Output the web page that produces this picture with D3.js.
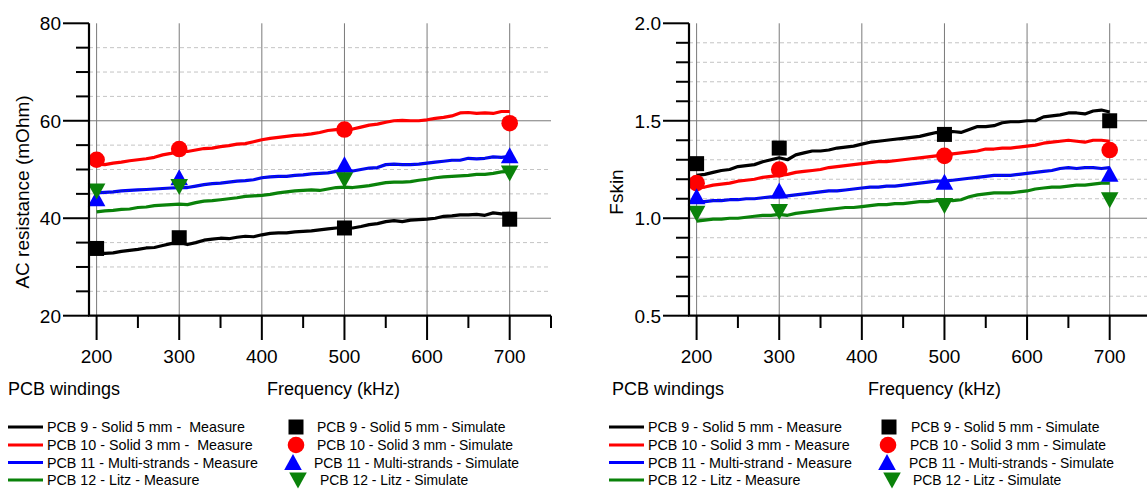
<!DOCTYPE html>
<html>
<head>
<meta charset="utf-8">
<script src="https://cdn.jsdelivr.net/npm/d3@7"></script>
<style>
  html, body { margin: 0; padding: 0; background: #fff; }
  svg { display: block; font-family: Arial, "Liberation Sans", sans-serif; }
  text { white-space: pre; }
</style>
</head>
<body>
<svg id="chart" width="1147" height="489"></svg>
<script>
// Measured frequency sweep (kHz)
const freq = [200,210,220,230,240,250,260,270,280,290,300,310,320,330,340,350,360,370,380,390,
  400,410,420,430,440,450,460,470,480,490,500,510,520,530,540,550,560,570,580,590,
  600,610,620,630,640,650,660,670,680,690,700];

// AC resistance (mOhm), measured
const rac9 = [33.0,32.8,32.9,33.2,33.4,33.6,33.9,34.0,34.4,34.8,35.1,34.6,35.0,35.5,35.7,35.9,35.8,36.1,36.3,36.2,
  36.6,36.9,37.0,37.0,37.2,37.3,37.4,37.6,37.8,38.0,38.1,38.0,38.3,38.7,38.9,39.3,39.5,39.3,39.6,39.7,
  39.8,40.0,40.4,40.5,40.7,40.7,40.8,40.6,41.1,40.9,41.0];
const rac10 = [51.1,51.0,51.3,51.5,51.8,52.0,52.2,52.5,53.0,53.3,53.7,53.7,54.0,54.3,54.4,54.7,54.9,55.2,55.3,55.7,
  56.1,56.4,56.6,56.8,57.0,57.1,57.3,57.6,58.0,58.2,58.4,58.3,58.7,59.1,59.3,59.7,60.0,60.1,60.0,60.0,
  60.2,60.5,60.7,61.0,61.6,61.7,61.5,61.6,61.5,61.9,61.9];
const rac11 = [45.2,45.3,45.4,45.6,45.7,45.8,45.9,46.0,46.1,46.2,46.3,46.3,46.6,46.9,47.1,47.2,47.4,47.6,47.7,47.9,
  48.3,48.5,48.6,48.6,48.8,48.9,49.1,49.2,49.3,49.6,49.7,49.7,50.0,50.3,50.4,51.0,51.1,51.0,51.0,51.1,
  51.3,51.5,51.7,51.9,51.9,52.3,52.2,52.3,52.6,52.5,52.7];
const rac12 = [41.3,41.5,41.6,41.8,41.9,42.2,42.3,42.6,42.7,42.8,42.9,42.8,43.2,43.5,43.6,43.8,44.0,44.2,44.5,44.6,
  44.7,44.9,45.2,45.4,45.6,45.7,45.8,45.7,46.0,46.3,46.4,46.3,46.5,46.7,47.0,47.3,47.4,47.4,47.5,47.8,
  48.0,48.3,48.5,48.6,48.7,48.8,49.0,49.0,49.2,49.5,49.6];

// Fskin, measured
const fs9 = [1.22,1.225,1.235,1.245,1.25,1.265,1.27,1.275,1.29,1.30,1.31,1.30,1.325,1.335,1.345,1.345,1.35,1.36,1.365,1.37,
  1.38,1.39,1.395,1.40,1.405,1.41,1.415,1.42,1.43,1.44,1.43,1.445,1.44,1.455,1.47,1.47,1.475,1.49,1.495,1.495,
  1.50,1.50,1.52,1.525,1.53,1.54,1.54,1.535,1.55,1.555,1.545];
const fs10 = [1.155,1.16,1.17,1.175,1.18,1.19,1.195,1.20,1.21,1.215,1.22,1.225,1.235,1.24,1.245,1.25,1.26,1.265,1.27,1.275,
  1.28,1.285,1.29,1.29,1.295,1.30,1.305,1.31,1.315,1.32,1.325,1.33,1.335,1.34,1.345,1.355,1.355,1.36,1.36,1.365,
  1.37,1.375,1.385,1.39,1.395,1.40,1.395,1.39,1.40,1.40,1.395];
const fs11 = [1.085,1.085,1.09,1.09,1.095,1.095,1.10,1.10,1.105,1.11,1.11,1.115,1.12,1.125,1.13,1.135,1.14,1.14,1.145,1.15,
  1.155,1.16,1.16,1.165,1.165,1.17,1.175,1.18,1.185,1.19,1.19,1.195,1.20,1.205,1.21,1.215,1.22,1.22,1.22,1.225,
  1.23,1.235,1.24,1.245,1.255,1.26,1.255,1.26,1.26,1.255,1.26];
const fs12 = [0.985,0.99,0.995,0.995,1.00,1.00,1.005,1.01,1.015,1.015,1.02,1.015,1.025,1.03,1.035,1.04,1.045,1.05,1.055,1.055,
  1.06,1.065,1.07,1.07,1.075,1.075,1.08,1.085,1.085,1.09,1.095,1.09,1.095,1.11,1.12,1.125,1.13,1.13,1.13,1.135,
  1.14,1.15,1.155,1.16,1.16,1.165,1.17,1.17,1.175,1.18,1.18];

// Simulated points
const simFreq = [200, 300, 500, 700];
const racSim9 = [33.8, 36.0, 38.0, 39.8];
const racSim10 = [52.0, 54.2, 58.2, 59.5];
const racSim11 = [44.0, 48.3, 51.0, 52.8];
const racSim12 = [45.6, 46.5, 47.9, 49.3];
const fsSim9 = [1.28, 1.36, 1.43, 1.50];
const fsSim10 = [1.18, 1.25, 1.32, 1.35];
const fsSim11 = [1.11, 1.14, 1.185, 1.225];
const fsSim12 = [1.025, 1.035, 1.065, 1.095];

// Axis ticks
const xMajorTicks = [200, 300, 400, 500, 600, 700];
const xMinorTicks = [250, 350, 450, 550, 650, 750];
const racMajorTicks = [20, 40, 60, 80];
const racMinorTicks = [25, 30, 35, 45, 50, 55, 65, 70, 75];
const fsMajorTicks = [0.5, 1.0, 1.5, 2.0];
const fsMinorTicks = [0.6, 0.7, 0.8, 0.9, 1.1, 1.2, 1.3, 1.4, 1.6, 1.7, 1.8, 1.9];

// Legend labels
const measureLabelsA = ["PCB 9 - Solid 5 mm -  Measure", "PCB 10 - Solid 3 mm -  Measure",
  "PCB 11 - Multi-strands - Measure", "PCB 12 - Litz - Measure"];
const simLabelsA = ["PCB 9 - Solid 5 mm - Simulate", "PCB 10 - Solid 3 mm - Simulate",
  "PCB 11 - Multi-strands - Simulate", "PCB 12 - Litz - Simulate"];
const measureLabelsB = ["PCB 9 - Solid 5 mm - Measure", "PCB 10 - Solid 3 mm - Measure",
  "PCB 11 - Multi-strand - Measure", "PCB 12 - Litz - Measure"];
const simLabelsB = ["PCB 9 - Solid 5 mm - Simulate", "PCB 10 - Solid 3 mm - Simulate",
  "PCB 11 - Multi-strands - Simulate", "PCB 12 - Litz - Simulate"];

const colors = ["#000000", "#ff0000", "#0000ff", "#0a820a"];
const shapes = ["square", "circle", "up", "down"];

const svg = d3.select("#chart");

function markerPath(shape) {
  switch (shape) {
    case "square": return "M-7.5,-7.5H7.5V7.5H-7.5Z";
    case "circle": return d3.arc()({innerRadius: 0, outerRadius: 8.3, startAngle: 0, endAngle: 2 * Math.PI});
    case "up": return "M0,-8.5L8.8,7.5L-8.8,7.5Z";
    case "down": return "M0,8.5L8.8,-7.5L-8.8,-7.5Z";
  }
}

function drawPanel(cfg) {
  const g = svg.append("g").attr("transform", `translate(${cfg.dx},0)`);
  const x = d3.scaleLinear().domain([190.8, 750]).range([89, 551]);
  const y = d3.scaleLinear().domain(cfg.yDomain).range([315.7, 23.3]);
  const [x0, x1] = x.range();

  // minor dashed grid
  g.append("g").selectAll("line").data(cfg.minor).join("line")
    .attr("x1", x0).attr("x2", x1).attr("y1", d => y(d)).attr("y2", d => y(d))
    .attr("stroke", "#c4c4c4").attr("stroke-width", 1).attr("stroke-dasharray", "4,3");
  // major horizontal grid
  g.append("g").selectAll("line").data(cfg.major.slice(1, -1)).join("line")
    .attr("x1", x0).attr("x2", x1).attr("y1", d => y(d)).attr("y2", d => y(d))
    .attr("stroke", "#7a7a7a").attr("stroke-width", 1);
  // vertical grid
  g.append("g").selectAll("line").data(xMajorTicks).join("line")
    .attr("x1", d => x(d)).attr("x2", d => x(d)).attr("y1", y.range()[1]).attr("y2", y.range()[0])
    .attr("stroke", "#7a7a7a").attr("stroke-width", 1);

  // measured curves
  const line = d3.line().x((d, i) => x(freq[i])).y(d => y(d));
  cfg.measured.forEach((vals, k) => {
    g.append("path").attr("d", line(vals)).attr("fill", "none")
      .attr("stroke", colors[k]).attr("stroke-width", 3.2).attr("stroke-linejoin", "round");
    if (k === 2) {
      g.append("path").attr("d", line(vals)).attr("fill", "none")
        .attr("stroke", "#1f6a2a").attr("stroke-width", 0.8).attr("stroke-dasharray", "1.5,1.5")
        .attr("opacity", 0.7);
    }
  });

  // simulated markers
  cfg.sim.forEach((vals, k) => {
    g.append("g").selectAll("path").data(vals).join("path")
      .attr("transform", (d, i) => `translate(${x(simFreq[i])},${y(d)})`)
      .attr("d", markerPath(shapes[k])).attr("fill", colors[k]);
  });

  // y axis
  g.append("line").attr("x1", x0).attr("x2", x0).attr("y1", y.range()[1]).attr("y2", y.range()[0])
    .attr("stroke", "#000").attr("stroke-width", 2.2);
  g.append("g").selectAll("line").data(cfg.major).join("line")
    .attr("x1", 63).attr("x2", x0).attr("y1", d => y(d)).attr("y2", d => y(d))
    .attr("stroke", "#000").attr("stroke-width", 2);
  g.append("g").selectAll("line").data(cfg.minor).join("line")
    .attr("x1", 76).attr("x2", x0).attr("y1", d => y(d)).attr("y2", d => y(d))
    .attr("stroke", "#000").attr("stroke-width", 2);
  g.append("g").selectAll("text").data(cfg.major).join("text")
    .attr("x", 61).attr("y", d => y(d)).attr("dy", "0.36em").attr("text-anchor", "end")
    .attr("font-size", 19).text(cfg.fmt);

  // x axis
  const yb = y.range()[0];
  g.append("line").attr("x1", x0 - 1).attr("x2", x1).attr("y1", yb).attr("y2", yb)
    .attr("stroke", "#000").attr("stroke-width", 2.2);
  g.append("g").selectAll("line").data(xMajorTicks).join("line")
    .attr("x1", d => x(d)).attr("x2", d => x(d)).attr("y1", yb).attr("y2", 340)
    .attr("stroke", "#000").attr("stroke-width", 2);
  g.append("g").selectAll("line").data(xMinorTicks).join("line")
    .attr("x1", d => x(d)).attr("x2", d => x(d)).attr("y1", yb).attr("y2", 328)
    .attr("stroke", "#000").attr("stroke-width", 2);
  g.append("g").selectAll("text").data(xMajorTicks).join("text")
    .attr("x", d => x(d)).attr("y", 363).attr("text-anchor", "middle")
    .attr("font-size", 19).text(d => d);

  // axis titles
  g.append("text").attr("transform", `translate(${cfg.yTitleX},192) rotate(-90)`)
    .attr("text-anchor", "middle").attr("dy", "0.36em").attr("font-size", 19).text(cfg.yTitle);
  g.append("text").attr("x", cfg.windX).attr("y", 395).attr("font-size", 18).text("PCB windings");
  g.append("text").attr("x", cfg.freqX).attr("y", 395).attr("font-size", 18).text("Frequency (kHz)");

  // legend
  const rows = [427, 445, 462.5, 480];
  const lg = g.append("g");
  cfg.measureLabels.forEach((lab, k) => {
    lg.append("line").attr("x1", cfg.lineX0).attr("x2", cfg.lineX0 + 35)
      .attr("y1", rows[k]).attr("y2", rows[k]).attr("stroke", colors[k]).attr("stroke-width", 3.2);
    lg.append("text").attr("x", cfg.lineX0 + 39).attr("y", rows[k]).attr("dy", "0.36em")
      .attr("font-size", 14.3).text(lab);
  });
  cfg.simLabels.forEach((lab, k) => {
    lg.append("path").attr("transform", `translate(${cfg.symX[k]},${rows[k]})`)
      .attr("d", markerPath(shapes[k])).attr("fill", colors[k]);
    lg.append("text").attr("x", cfg.symTextX[k]).attr("y", rows[k]).attr("dy", "0.36em")
      .attr("font-size", 13.9).text(lab);
  });
}

drawPanel({
  dx: 0, yDomain: [20, 80], major: racMajorTicks, minor: racMinorTicks, fmt: d => d,
  measured: [rac9, rac10, rac11, rac12], sim: [racSim9, racSim10, racSim11, racSim12],
  yTitle: "AC resistance (mOhm)", yTitleX: 22, windX: 8, freqX: 267,
  measureLabels: measureLabelsA, simLabels: simLabelsA,
  lineX0: 8, symX: [296, 296, 293, 298], symTextX: [317, 317, 314, 320]
});

drawPanel({
  dx: 600, yDomain: [0.5, 2.0], major: fsMajorTicks, minor: fsMinorTicks, fmt: d3.format(".1f"),
  measured: [fs9, fs10, fs11, fs12], sim: [fsSim9, fsSim10, fsSim11, fsSim12],
  yTitle: "Fskin", yTitleX: 16, windX: 12, freqX: 268,
  measureLabels: measureLabelsB, simLabels: simLabelsB,
  lineX0: 9, symX: [289, 288, 287, 292], symTextX: [311, 310, 309, 313]
});
</script>
</body>
</html>
